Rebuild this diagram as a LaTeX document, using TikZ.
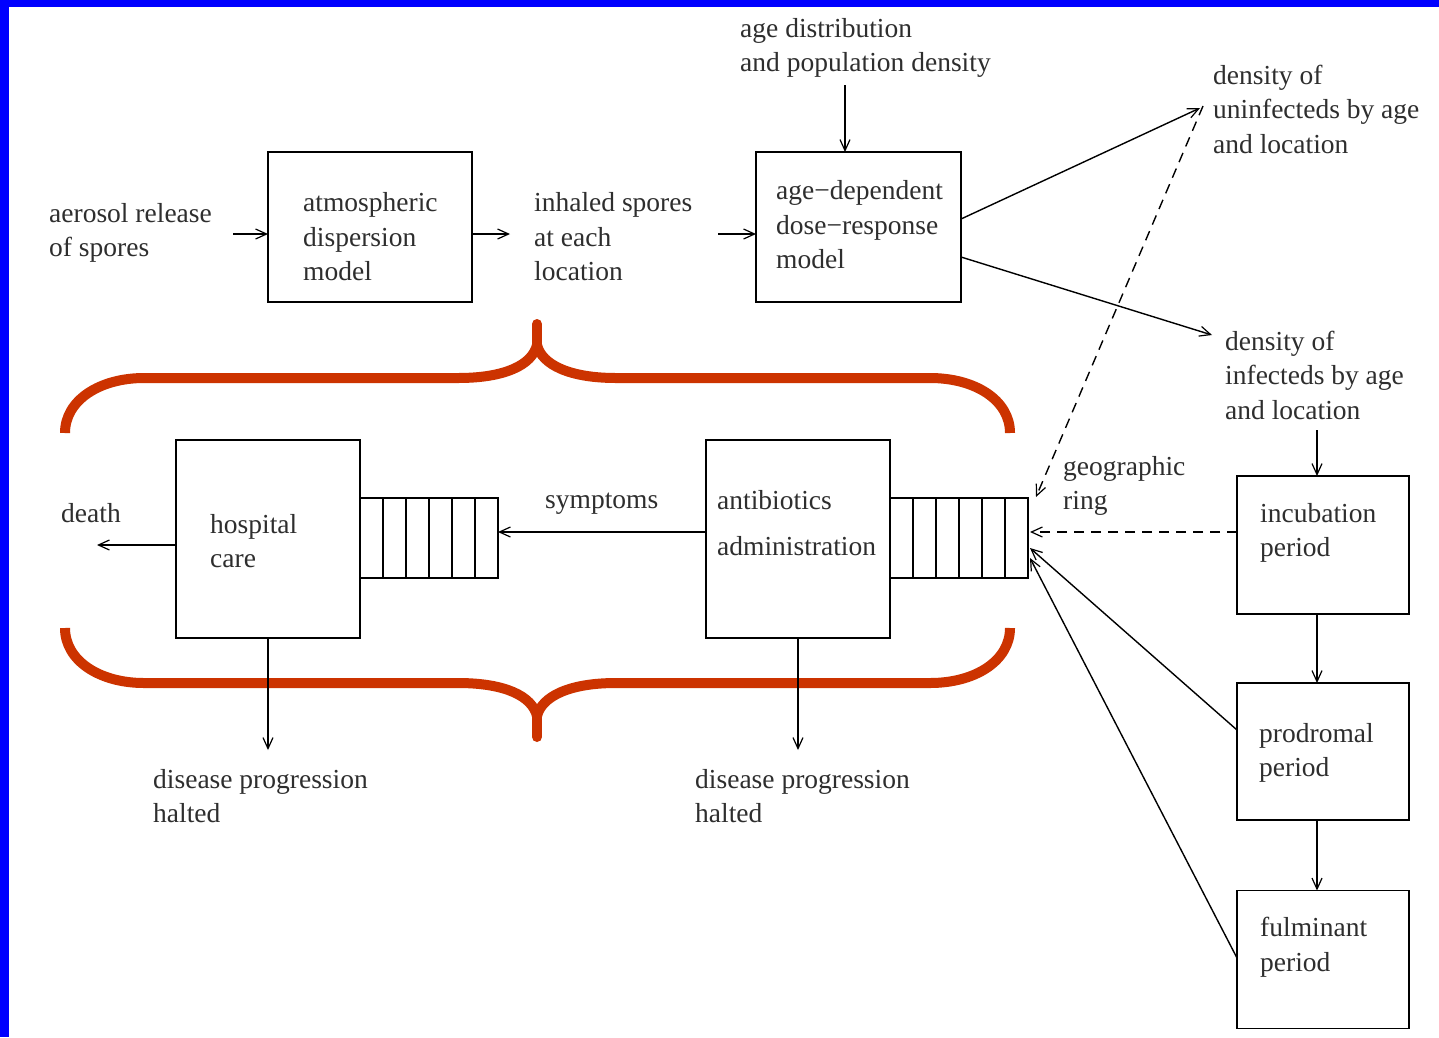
\documentclass[tikz,border=0pt]{standalone}
\usepackage{fontspec}
\setmainfont{Liberation Serif}
\usetikzlibrary{arrows.meta,calc}
\definecolor{bracered}{HTML}{CC3300}
\definecolor{frameblue}{HTML}{0000FF}
\newcommand{\mydash}{\symbol{"2212}}
\begin{document}
\begin{tikzpicture}[x=1pt,y=-1pt,
  box/.style={draw, line width=1.8pt, minimum width=#1, inner sep=0pt, outer sep=0pt},
  txt/.style={anchor=west, align=left, inner sep=0pt, text=black!82,
              font=\fontsize{27.5}{34.5}\selectfont},
  arr/.style={line width=1.4pt, -{Straight Barb[length=11pt,width=10pt,line width=1.2pt]}},
  darr/.style={arr, dash pattern=on 10pt off 7pt},
  brace/.style={draw=bracered, line width=10pt, line join=round}]
% canvas and frame
\fill[white] (0,0) rectangle (1439,1037);
\useasboundingbox (0,0) rectangle (1439,1037);
\fill[frameblue] (0,0) rectangle (1439,7);
\fill[frameblue] (0,0) rectangle (9,1037);

% braces
\draw[brace] (65,433) .. controls (65,400) and (100,378) .. (144,378) -- (458,378)
  .. controls (505,378) and (532,365) .. (537,345);
\draw[brace] (537,345) .. controls (542,365) and (570,378) .. (616,378) -- (930,378)
  .. controls (975,378) and (1010,400) .. (1010,433);
\draw[brace, line cap=round] (537,346) -- (537,324);
\draw[brace] (65,628) .. controls (65,661) and (100,683) .. (144,683) -- (458,683)
  .. controls (505,683) and (532,696) .. (537,716);
\draw[brace] (537,716) .. controls (542,696) and (570,683) .. (616,683) -- (930,683)
  .. controls (975,683) and (1010,661) .. (1010,628);
\draw[brace, line cap=round] (537,715) -- (537,737);

% boxes
\node[box=204pt, minimum height=150pt] (atm)  at (370,227) {};
\node[box=205pt, minimum height=150pt] (dose) at (858.5,227) {};
\node[box=184pt, minimum height=198pt] (hosp) at (268,539) {};
\node[box=184pt, minimum height=198pt] (anti) at (798,539) {};
\node[box=172pt, minimum height=138pt] (inc)  at (1323,545) {};
\node[box=172pt, minimum height=137pt] (pro)  at (1323,751.5) {};
\node[box=172pt, minimum height=138pt] (ful)  at (1323,959.5) {};
\node[box=138pt, minimum height=80pt] (qL) at (429,538) {};
\node[box=138pt, minimum height=80pt] (qR) at (959,538) {};
\foreach \i in {1,...,5}{
  \draw[line width=1.8pt] ($(qL.north west)+(23*\i,0)$) -- ($(qL.south west)+(23*\i,0)$);
  \draw[line width=1.8pt] ($(qR.north west)+(23*\i,0)$) -- ($(qR.south west)+(23*\i,0)$);
}

% texts
\node[txt] (tAer) at (49,233) {aerosol release\\of spores};
\node[txt] (tAtm) at (303,237) {atmospheric\\dispersion\\model};
\node[txt] (tInh) at (534,237) {inhaled spores\\at each\\location};
\node[txt] (tAge) at (740,48) {age distribution\\and population density};
\node[txt] (tDose) at (776,225) {age\mydash dependent\\dose\mydash response\\model};
\node[txt] (tUn) at (1213,109) {density of\\uninfecteds by age\\and location};
\node[txt] (tIn) at (1225,375) {density of\\infecteds by age\\and location};
\node[txt] (tGeo) at (1063,486) {geographic\\ring};
\node[txt] (tInc) at (1260,533) {incubation\\period};
\node[txt] (tPro) at (1259,753) {prodromal\\period};
\node[txt] (tFul) at (1260,947) {fulminant\\period};
\node[txt] (tSym) at (545,504) {symptoms};
\node[txt] (tAnt) at (717,523) {antibiotics\\[11pt]administration};
\node[txt] (tHos) at (210,541) {hospital\\care};
\node[txt] (tDea) at (61,513) {death};
\node[txt] (tH1) at (153,796) {disease progression\\halted};
\node[txt] (tH2) at (695,796) {disease progression\\halted};

% free ends
\coordinate (c1) at (233,234);
\coordinate (c2) at (510,234);
\coordinate (c3) at (718,234);
\coordinate (c4) at (845,85);
\coordinate (c5) at (1200,108);
\coordinate (c6) at (1212,335);
\coordinate (c7) at (1317,430);
\coordinate (c8) at (1203,106);
\coordinate (c9) at (97,545);
\coordinate (c10) at (268,750);
\coordinate (c11) at (798,750);

% connectors
\draw[arr] (c1) -- ([yshift=-7pt]atm.west);
\draw[arr] ([yshift=-7pt]atm.east) -- (c2);
\draw[arr] (c3) -- ([yshift=-7pt]dose.west);
\draw[arr] (c4) -- ([xshift=-13.5pt]dose.north);
\draw[arr] ([yshift=8pt]dose.east) -- (c5);
\draw[arr] ([yshift=-30pt]dose.east) -- (c6);
\draw[arr] (c7) -- ([xshift=-6pt]inc.north);
\draw[arr] ([xshift=-6pt]inc.south) -- ([xshift=-6pt]pro.north);
\draw[arr] ([xshift=-6pt]pro.south) -- ([xshift=-6pt]ful.north);
\draw[darr] ([yshift=13pt]inc.west) -- ([yshift=6pt,xshift=2pt]qR.east);
\draw[arr] ([yshift=21.5pt]pro.west) -- ([yshift=-10pt,xshift=2pt]qR.east);
\draw[arr] ([yshift=1.5pt]ful.west) -- ([yshift=-20pt,xshift=2pt]qR.east);
\draw[darr] (c8) -- ([xshift=8pt,yshift=1pt]qR.north east);
\draw[arr] ([yshift=7pt]anti.west) -- ([yshift=6pt]qL.east);
\draw[arr] ([yshift=-6pt]hosp.west) -- (c9);
\draw[arr] (hosp.south) -- (c10);
\draw[arr] (anti.south) -- (c11);
\end{tikzpicture}
\end{document}
